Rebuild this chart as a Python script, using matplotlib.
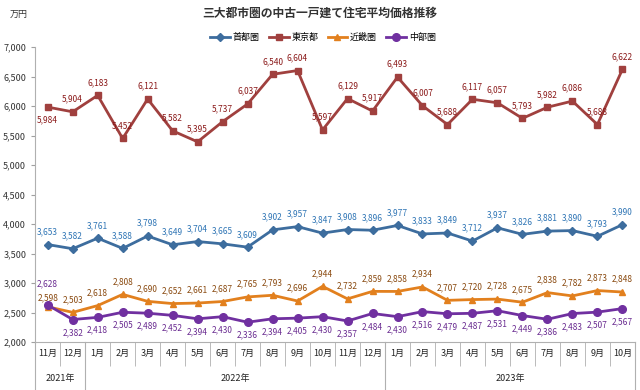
import matplotlib.pyplot as plt

plt.rcParams['font.family'] = ['Noto Sans CJK JP', 'DejaVu Sans']

# months Nov 2021 .. Oct 2023
months = ['11月', '12月', '1月', '2月', '3月', '4月', '5月', '6月', '7月', '8月', '9月', '10月',
          '11月', '12月', '1月', '2月', '3月', '4月', '5月', '6月', '7月', '8月', '9月', '10月']
years = ['2021年', '2022年', '2023年']
year_counts = [2, 12, 10]

shutoken = [3653, 3582, 3761, 3588, 3798, 3649, 3704, 3665, 3609, 3902, 3957, 3847,
            3908, 3896, 3977, 3833, 3849, 3712, 3937, 3826, 3881, 3890, 3793, 3990]
tokyo = [5984, 5904, 6183, 5452, 6121, 5582, 5395, 5737, 6037, 6540, 6604, 5597,
         6129, 5917, 6493, 6007, 5688, 6117, 6057, 5793, 5982, 6086, 5688, 6622]
kinki = [2598, 2503, 2618, 2808, 2690, 2652, 2661, 2687, 2765, 2793, 2696, 2944,
         2732, 2859, 2858, 2934, 2707, 2720, 2728, 2675, 2838, 2782, 2873, 2848]
chubu = [2628, 2382, 2418, 2505, 2489, 2452, 2394, 2430, 2336, 2394, 2405, 2430,
         2357, 2484, 2430, 2516, 2479, 2487, 2531, 2449, 2386, 2483, 2507, 2567]

fig = plt.figure(figsize=(6.4, 3.9), dpi=100)
ax = fig.add_axes([0.055, 0.123, 0.937, 0.756])
x = list(range(len(months)))

series = [
    ('首都圏', shutoken, '#3d6d9e', '#2f75b5', 'D', 4),
    ('東京都', tokyo, '#a0403e', '#8b1a1a', 's', 5),
    ('近畿圏', kinki, '#e2801e', '#8a4a10', '^', 5),
    ('中部圏', chubu, '#7030a0', '#6a2c91', 'o', 5.5),
]

for name, vals, col, tcol, mk, ms in series:
    ax.plot(x, vals, color=col, linewidth=2, marker=mk, markersize=ms, label=name)
    for i, v in enumerate(vals):
        dy = 6
        va = 'bottom'
        if name == '中部圏':
            dy, va = -6, 'top'
            if i == 0:
                dy, va = 12, 'bottom'
        if name == '東京都' and i == 0:
            dy, va = -6, 'top'
        if name == '近畿圏' and i == 0:
            dy = 3
        ax.annotate(f'{v:,}', (i, v), xytext=(0, dy), textcoords='offset points',
                    ha='center', va=va, fontsize=6, color=tcol)

ax.set_xlim(-0.5, 23.5)
ax.set_ylim(2000, 7000)
ax.set_yticks(range(2000, 7001, 500))
ax.set_yticklabels([f'{v:,}' for v in range(2000, 7001, 500)], fontsize=6.5, color='#333333')
ax.tick_params(axis='y', length=3, color='#a0a0a0')

ax.set_xticks(x)
ax.set_xticklabels(months, fontsize=6.5, color='#222222')
ax.set_xticks([i - 0.5 for i in range(25)], minor=True)
ax.tick_params(axis='x', which='major', length=0, pad=5)
ax.tick_params(axis='x', which='minor', length=17, color='#b0b0b0')

for s in ['top', 'right']:
    ax.spines[s].set_visible(False)
ax.spines['left'].set_color('#b0b0b0')
ax.spines['bottom'].set_color('#b0b0b0')

# year row
trans = ax.get_xaxis_transform()
start = -0.5
for yr, n in zip(years, year_counts):
    ax.plot([start, start], [0, -0.16], transform=trans, color='#b0b0b0', lw=0.8, clip_on=False)
    ax.text(start + n / 2, -0.125, yr, transform=trans, ha='center', va='center',
            fontsize=6.5, color='#222222')
    start += n
ax.plot([start, start], [0, -0.16], transform=trans, color='#b0b0b0', lw=0.8, clip_on=False)

fig.text(0.5, 0.965, '三大都市圏の中古一戸建て住宅平均価格推移', ha='center', va='center',
         fontsize=8.5, fontweight='bold', color='#333333')
fig.text(0.015, 0.963, '万円', ha='left', va='center', fontsize=6.5, color='#333333')
ax.legend(loc='lower center', bbox_to_anchor=(0.48, 1.0), ncol=4, frameon=False,
          fontsize=6.5, handlelength=2.2, columnspacing=1.0, handletextpad=0.3,
          borderaxespad=0.2)

fig.savefig('out.png', dpi=100)
